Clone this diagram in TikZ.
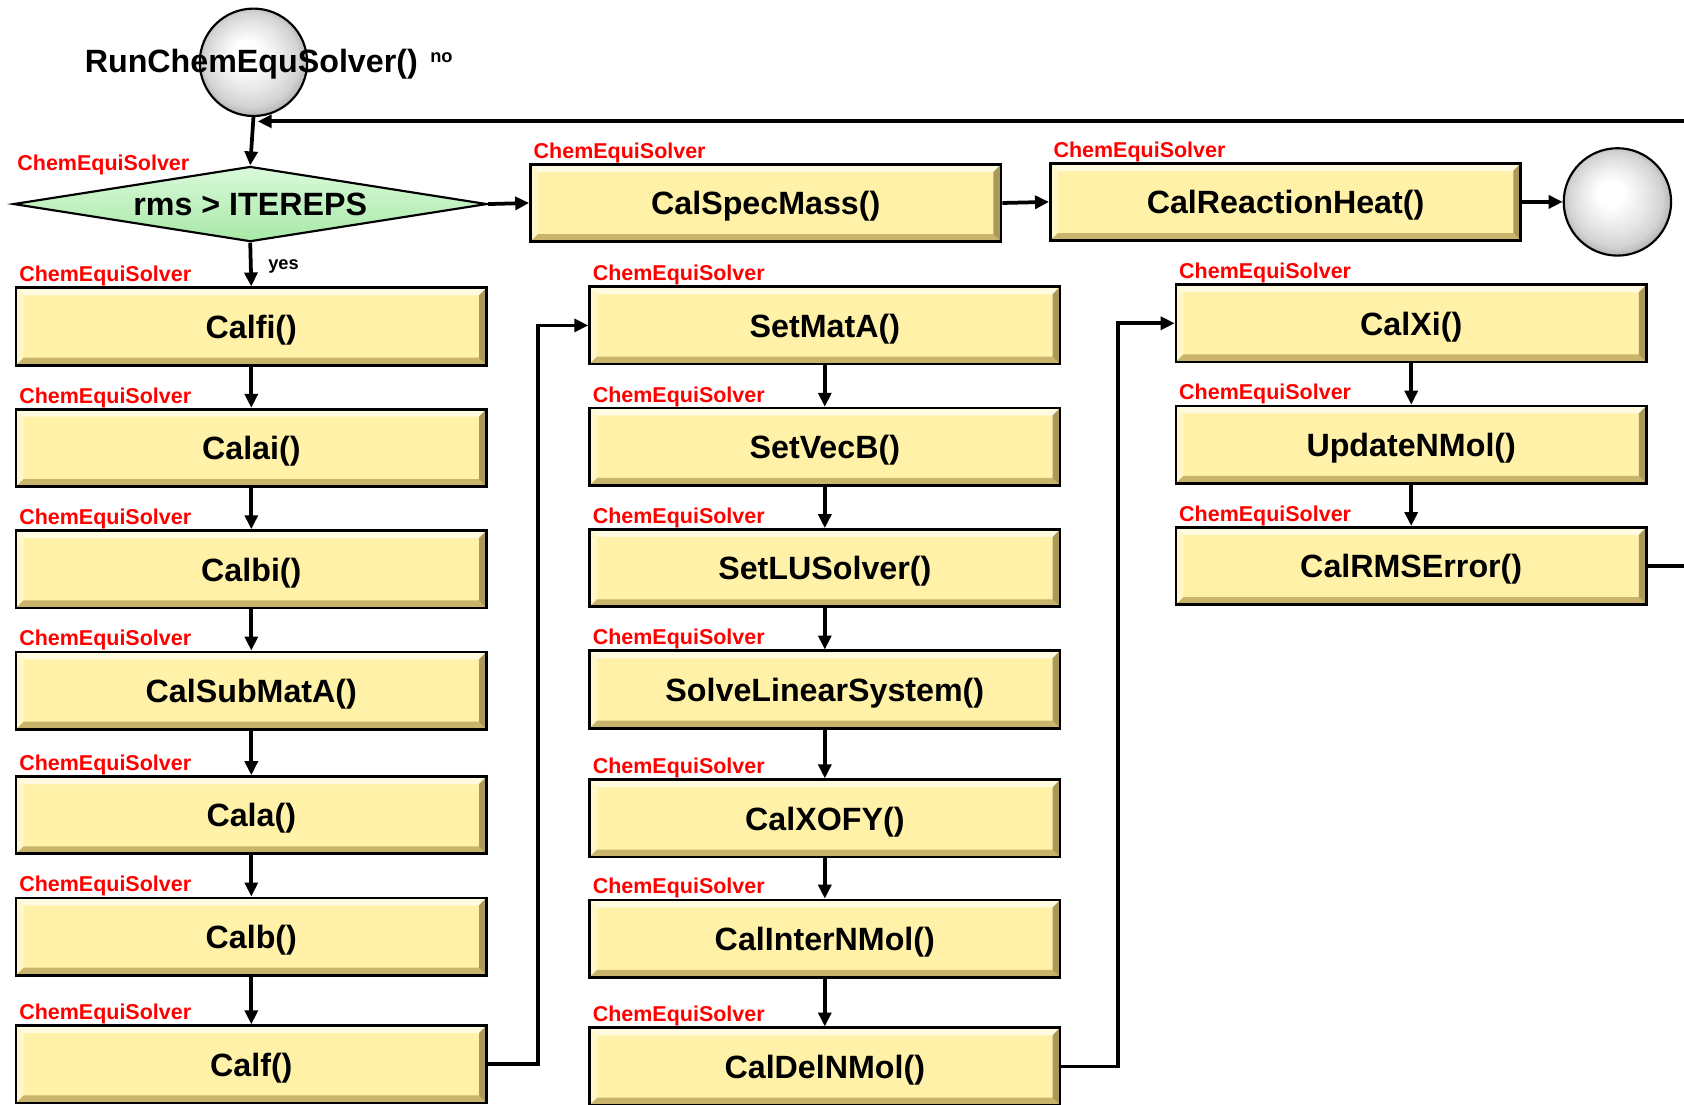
\documentclass[tikz,border=0pt]{standalone}
\usepackage{fontspec}
\setmainfont{Liberation Sans}
\usepackage{xcolor}
\usetikzlibrary{arrows.meta, shapes.geometric}

\definecolor{boxyellow}{HTML}{FFF2A8}
\definecolor{bevlight}{HTML}{FFFBE0}
\definecolor{bevdark}{HTML}{C9B46C}
\definecolor{diatop}{HTML}{DAFADA}
\definecolor{diabot}{HTML}{A8E8A8}

\pgfdeclareradialshading{softball}{\pgfpoint{-4bp}{5bp}}{%
  color(0bp)=(white); color(6bp)=(white); color(16bp)=(gray!20);
  color(22bp)=(gray!35); color(26bp)=(gray!60); color(30bp)=(gray!85)}

\tikzset{
  fbox/.style={draw=black, line width=2.5pt, fill=boxyellow, inner sep=0pt,
    minimum width=438pt, minimum height=72pt, text height=26pt, text depth=4pt,
    font=\bfseries\fontsize{30}{36}\selectfont,
    path picture={
      \coordinate (pnw) at (path picture bounding box.north west);
      \coordinate (pne) at (path picture bounding box.north east);
      \coordinate (psw) at (path picture bounding box.south west);
      \coordinate (pse) at (path picture bounding box.south east);
      \fill[bevlight] (pnw) -- (pne) -- ([shift={(-7pt,-7pt)}]pne) -- ([shift={(7pt,-7pt)}]pnw) -- cycle;
      \fill[bevlight!60!boxyellow] (pnw) -- ([shift={(7pt,-7pt)}]pnw) -- ([shift={(7pt,7pt)}]psw) -- (psw) -- cycle;
      \fill[bevdark] (psw) -- ([shift={(7pt,7pt)}]psw) -- ([shift={(-7pt,7pt)}]pse) -- (pse) -- cycle;
      \fill[bevdark!85!black] (pse) -- ([shift={(-7pt,7pt)}]pse) -- ([shift={(-7pt,-7pt)}]pne) -- (pne) -- cycle;
    }},
  tag/.style={anchor=south west, xshift=3pt, yshift=-1pt, inner sep=1pt, text=red,
    font=\bfseries\fontsize{20}{24}\selectfont},
  endball/.style={circle, draw=black, line width=2pt, minimum size=100pt,
    inner sep=0pt, shading=softball},
  conn/.style={line width=3.5pt, -{Triangle[length=13pt,width=12pt]}}
}

\begin{document}
\begin{tikzpicture}[x=1pt, y=-1pt]
  \useasboundingbox (0,0) rectangle (1568,1028);
  \clip (0,0) rectangle (1568,1028);

  % start, test and the top row
  \node[endball] (start) at (236,58) {};
  \node[font=\bfseries\fontsize{30}{36}\selectfont] (run) at (234,60) {RunChemEquSolver()};
  \node[font=\bfseries\fontsize{17}{19}\selectfont] (no) at (411,54) {no};
  \node[diamond, draw=black, line width=2pt, top color=diatop, bottom color=diabot,
        minimum width=441pt, minimum height=70pt, aspect=6.3, inner sep=0pt,
        font=\bfseries\fontsize{30}{36}\selectfont] (dia) at (233,190) {rms > ITEREPS};
  \node[tag] (dia-t) at (12,163) {ChemEquiSolver};
  \node[font=\bfseries\fontsize{17}{19}\selectfont] (yes) at (264,248) {yes};

  \node[fbox] (specmass) at (713,189) {CalSpecMass()};
  \node[tag] (specmass-t) at (specmass.north west) {ChemEquiSolver};
  \node[fbox] (reacheat) at (1197,188) {CalReactionHeat()};
  \node[tag] (reacheat-t) at (reacheat.north west) {ChemEquiSolver};
  \node[endball] (stop) at (1506,188) {};

  % first column
  \node[fbox] (calfi) at (234,304) {Calfi()};
  \node[tag] (calfi-t) at (calfi.north west) {ChemEquiSolver};
  \node[fbox] (calai) at (234,417) {Calai()};
  \node[tag] (calai-t) at (calai.north west) {ChemEquiSolver};
  \node[fbox] (calbi) at (234,530) {Calbi()};
  \node[tag] (calbi-t) at (calbi.north west) {ChemEquiSolver};
  \node[fbox] (submata) at (234,643) {CalSubMatA()};
  \node[tag] (submata-t) at (submata.north west) {ChemEquiSolver};
  \node[fbox] (cala) at (234,759) {Cala()};
  \node[tag] (cala-t) at (cala.north west) {ChemEquiSolver};
  \node[fbox] (calb) at (234,872) {Calb()};
  \node[tag] (calb-t) at (calb.north west) {ChemEquiSolver};
  \node[fbox] (calf) at (234,991) {Calf()};
  \node[tag] (calf-t) at (calf.north west) {ChemEquiSolver};

  % second column
  \node[fbox] (setmata) at (768,303) {SetMatA()};
  \node[tag] (setmata-t) at (setmata.north west) {ChemEquiSolver};
  \node[fbox] (setvecb) at (768,416) {SetVecB()};
  \node[tag] (setvecb-t) at (setvecb.north west) {ChemEquiSolver};
  \node[fbox] (setlu) at (768,529) {SetLUSolver()};
  \node[tag] (setlu-t) at (setlu.north west) {ChemEquiSolver};
  \node[fbox] (solvels) at (768,642) {SolveLinearSystem()};
  \node[tag] (solvels-t) at (solvels.north west) {ChemEquiSolver};
  \node[fbox] (calxofy) at (768,762) {CalXOFY()};
  \node[tag] (calxofy-t) at (calxofy.north west) {ChemEquiSolver};
  \node[fbox] (internmol) at (768,874) {CalInterNMol()};
  \node[tag] (internmol-t) at (internmol.north west) {ChemEquiSolver};
  \node[fbox] (delnmol) at (768,993) {CalDelNMol()};
  \node[tag] (delnmol-t) at (delnmol.north west) {ChemEquiSolver};

  % third column
  \node[fbox] (calxi) at (1314,301) {CalXi()};
  \node[tag] (calxi-t) at (calxi.north west) {ChemEquiSolver};
  \node[fbox] (updnmol) at (1314,414) {UpdateNMol()};
  \node[tag] (updnmol-t) at (updnmol.north west) {ChemEquiSolver};
  \node[fbox] (rmserr) at (1314,527) {CalRMSError()};
  \node[tag] (rmserr-t) at (rmserr.north west) {ChemEquiSolver};

  % connectors
  \draw[conn] (start.south) -- (dia.north);
  \draw[conn] (dia.east) -- (specmass.west);
  \draw[conn] (specmass.east) -- (reacheat.west);
  \draw[conn] (reacheat.east) -- (stop.west);
  \draw[conn] (dia.south) -- (calfi.north);
  \draw[conn] (calfi.south) -- (calai.north);
  \draw[conn] (calai.south) -- (calbi.north);
  \draw[conn] (calbi.south) -- (submata.north);
  \draw[conn] (submata.south) -- (cala.north);
  \draw[conn] (cala.south) -- (calb.north);
  \draw[conn] (calb.south) -- (calf.north);
  \draw[conn] (calf.east) -- ++(47,0) |- (setmata.west);
  \draw[conn] (setmata.south) -- (setvecb.north);
  \draw[conn] (setvecb.south) -- (setlu.north);
  \draw[conn] (setlu.south) -- (solvels.north);
  \draw[conn] (solvels.south) -- (calxofy.north);
  \draw[conn] (calxofy.south) -- (internmol.north);
  \draw[conn] (internmol.south) -- (delnmol.north);
  \draw[conn] (delnmol.east) -- ++(53,0) |- (calxi.west);
  \draw[conn] (calxi.south) -- (updnmol.north);
  \draw[conn] (updnmol.south) -- (rmserr.north);
  % back to the start, round the right edge
  \draw[conn] (rmserr.east) -- ++(80,0) |- ([shift={(4pt,-4pt)}]start.south);
\end{tikzpicture}
\end{document}
